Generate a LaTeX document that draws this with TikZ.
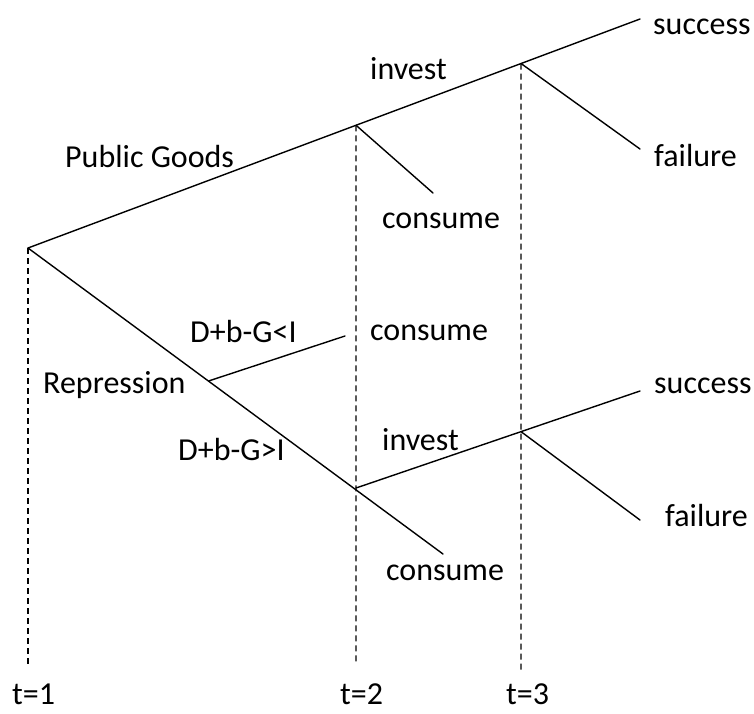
\documentclass[tikz,border=0pt]{standalone}
\usepackage{fontspec}
\setmainfont{Carlito}
\usetikzlibrary{calc}
\begin{document}
\begin{tikzpicture}[x=1pt,y=-1pt,
  branch/.style={line width=1.4pt, line cap=round},
  timeline/.style={line width=1.2pt, dash pattern=on 6pt off 4pt},
  lbl/.style={anchor=base west, inner sep=0pt, font=\fontsize{32}{38}\selectfont}]
\fill[white] (0,0) rectangle (754,713);
\useasboundingbox (0,0) rectangle (754,713);
% tree points
\coordinate (r) at (28,248);
\coordinate (us) at (640,19);
\coordinate (u2) at ($(r)!0.536!(us)$);
\coordinate (u3) at ($(r)!0.8056!(us)$);
\coordinate (uc) at (433,193);
\coordinate (uf) at (640,149);
\coordinate (l2) at (356,488);
\coordinate (lb) at ($(r)!0.553!(l2)$);
\coordinate (lbe) at (345,336);
\coordinate (lc) at (443,554);
\coordinate (ls) at (640,391);
\coordinate (l3) at ($(l2)!0.581!(ls)$);
\coordinate (lf) at (640,520);
% time line ends
\coordinate (e1) at (28,664);
\coordinate (e2) at (356,662);
\coordinate (e3) at (521,671);
% dashed time lines
\draw[timeline] (r) -- (e1);
\draw[timeline] (u2) -- (e2);
\draw[timeline] (u3) -- (e3);
% branches
\draw[branch] (r) -- (us);
\draw[branch] (u2) -- (uc);
\draw[branch] (u3) -- (uf);
\draw[branch] (r) -- (lc);
\draw[branch] (lb) -- (lbe);
\draw[branch] (l2) -- (ls);
\draw[branch] (l3) -- (lf);
% labels
\node[lbl] (successU) at (653,34) {success};
\node[lbl] (investU) at (370,79) {invest};
\node[lbl] (pubgoods) at (65,167) {Public Goods};
\node[lbl] (failureU) at (654,166) {failure};
\node[lbl] (consumeU) at (382,228) {consume};
\node[lbl] (condlt) at (190,342) {D+b-G<I};
\node[lbl] (consumeM) at (370,340) {consume};
\node[lbl] (repress) at (43,393) {Repression};
\node[lbl] (successL) at (654,393) {success};
\node[lbl] (investL) at (382,450) {invest};
\node[lbl] (condgt) at (178,460) {D+b-G>I};
\node[lbl] (failureL) at (665,526) {failure};
\node[lbl] (consumeL) at (386,580) {consume};
\node[lbl] (t1) at (12,704) {t=1};
\node[lbl] (t2) at (340,704) {t=2};
\node[lbl] (t3) at (506,704) {t=3};
\end{tikzpicture}
\end{document}
